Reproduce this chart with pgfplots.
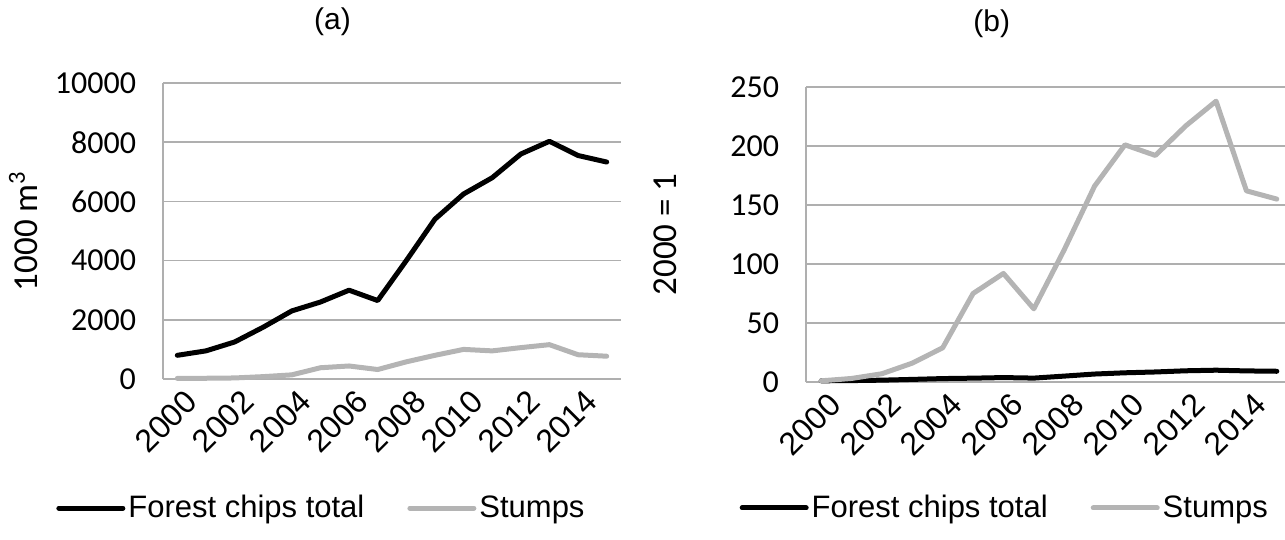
\documentclass[border=0pt]{standalone}
\usepackage{pgfplots}
\pgfplotsset{compat=1.18}
\usepackage{fontspec}
\setmainfont{Liberation Sans}
\newfontfamily\calibri{Carlito}
\definecolor{gridgray}{RGB}{175,175,175}
\definecolor{stumpgray}{RGB}{180,180,180}
\newcommand\tickfont{\calibri\fontsize{16bp}{18bp}\selectfont}
\newcommand\labfont{\calibri\fontsize{17.5bp}{20bp}\selectfont}
\newcommand\xfont{\fontsize{16bp}{18bp}\selectfont}
\newcommand\legfont{\fontsize{15.5bp}{17bp}\selectfont}
\newcommand\titfont{\fontsize{15bp}{17bp}\selectfont}
\pgfplotsset{
  mystyle/.style={
    scale only axis, clip=false,
    anchor=south west,
    xmin=-0.5, xmax=15.5,
    xtick={0,2,4,6,8,10,12,14},
    xticklabels={2000,2002,2004,2006,2008,2010,2012,2014},
    x tick label style={rotate=45, anchor=north east, font=\xfont, inner sep=1bp, yshift=-4bp},
    y tick label style={font=\tickfont, xshift=-10bp},
    scaled y ticks=false,
    /pgf/number format/assume math mode=true,
    /pgf/number format/1000 sep={},
    ymajorgrids,
    grid style={gridgray, line width=0.75bp},
    axis x line*=bottom, axis y line*=left,
    axis line style={gridgray, line width=0.75bp, -},
    major tick length=0pt,
    ylabel style={font=\labfont, anchor=center},
    legend style={draw=none, fill=none, legend columns=2, font=\legfont, anchor=center,
      /tikz/every even column/.append style={column sep=20bp},
      nodes={inner sep=1.5bp}},
    legend image code/.code={\draw[##1, line cap=round] (0bp,0bp) -- (32bp,0bp);},
    every axis plot/.append style={line width=2.5bp, line cap=round, line join=round},
  }
}
\begin{document}
\begin{tikzpicture}
\path[use as bounding box] (0,0) rectangle (642.5bp,270bp);
\begin{axis}[mystyle,
  at={(81.5bp,80.5bp)}, width=229bp, height=148bp,
  ymin=0, ymax=10000, ytick={0,2000,4000,6000,8000,10000},
  title={(a)}, title style={font=\titfont, anchor=center, at={(axis description cs:0.37,1.165)}},
  ylabel={1000 m\textsuperscript{3}}, ylabel style={at={(axis description cs:-0.305,0.5)}},
  legend style={at={(axis description cs:0.347,-0.436)}},
]
\addplot[black] coordinates {(0,800) (1,950) (2,1250) (3,1750) (4,2300) (5,2600) (6,3000) (7,2650) (8,4000) (9,5400) (10,6250) (11,6800) (12,7600) (13,8030) (14,7550) (15,7330)};
\addlegendentry{Forest chips total}
\addplot[stumpgray] coordinates {(0,20) (1,25) (2,35) (3,80) (4,140) (5,380) (6,440) (7,320) (8,580) (9,800) (10,1000) (11,950) (12,1060) (13,1160) (14,820) (15,770)};
\addlegendentry{Stumps}
\end{axis}
\begin{axis}[mystyle,
  at={(403bp,79bp)}, width=243bp, height=147.5bp,
  ymin=0, ymax=250, ytick={0,50,100,150,200,250},
  title={(b)}, title style={font=\titfont, anchor=center, at={(axis description cs:0.382,1.175)}},
  ylabel={2000 = 1}, ylabel style={at={(axis description cs:-0.29,0.5)}},
  legend style={at={(axis description cs:0.41,-0.427)}},
]
\addplot[black] coordinates {(0,1) (1,1.2) (2,1.55) (3,2.2) (4,2.9) (5,3.25) (6,3.75) (7,3.3) (8,5) (9,6.75) (10,7.8) (11,8.5) (12,9.5) (13,10) (14,9.4) (15,9.1)};
\addlegendentry{Forest chips total}
\addplot[stumpgray] coordinates {(0,1) (1,3) (2,7) (3,16) (4,29) (5,75) (6,92) (7,62) (8,112) (9,166) (10,201) (11,192) (12,217) (13,238) (14,162) (15,155)};
\addlegendentry{Stumps}
\end{axis}
\end{tikzpicture}
\end{document}
